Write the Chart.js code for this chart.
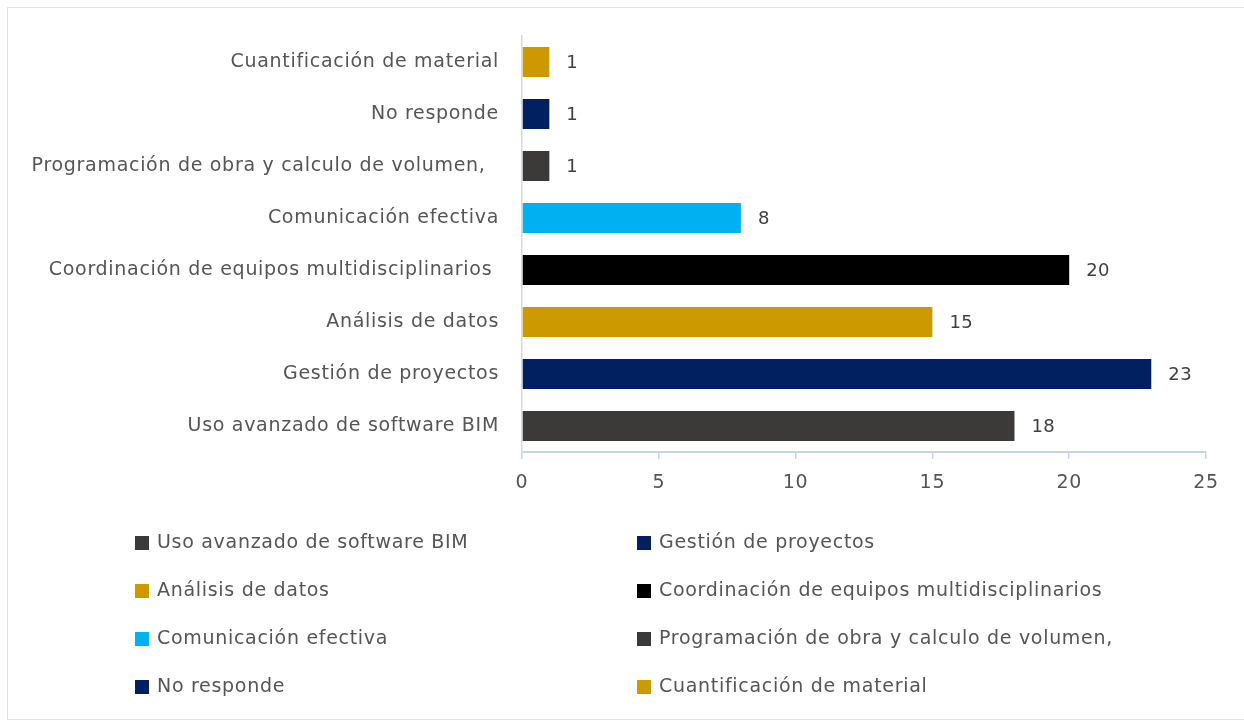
<!DOCTYPE html>
<html>
<head>
<meta charset="utf-8">
<script src="https://cdn.jsdelivr.net/npm/chart.js@4.4.0/dist/chart.umd.min.js"></script>
<style>
  html, body { margin: 0; padding: 0; background: #ffffff; }
  body { width: 1244px; height: 724px; position: relative; overflow: hidden; font-family: "DejaVu Sans", sans-serif; }
  #frame { position: absolute; left: 7px; top: 7px; width: 1260px; height: 713px; border: 1px solid #dde4ef; box-sizing: border-box; }
  #wrap { position: absolute; left: 0; top: 0; width: 1244px; height: 510px; }
  #legend { position: absolute; left: 0; top: 0; width: 1244px; height: 724px; pointer-events: none; }
  .li { position: absolute; height: 22px; line-height: 22px; font-size: 19px; color: #555555; letter-spacing: 0.7px; white-space: nowrap; }
  .sw { position: absolute; width: 14px; height: 14px; }
</style>
</head>
<body>
<div id="frame"></div>
<div id="wrap"><canvas id="c"></canvas></div>
<div id="legend"></div>
<script>
// Data (top-to-bottom order as displayed)
const categories = [
  "Cuantificación de material",
  "No responde",
  "Programación de obra y calculo de volumen,  ",
  "Comunicación efectiva",
  "Coordinación de equipos multidisciplinarios ",
  "Análisis de datos",
  "Gestión de proyectos",
  "Uso avanzado de software BIM"
];
const values = [1, 1, 1, 8, 20, 15, 23, 18];
const barColors = ["#CC9900", "#002060", "#3B3A38", "#00B0F0", "#000000", "#CC9900", "#002060", "#3B3A38"];
const xTicks = [0, 5, 10, 15, 20, 25];

Chart.defaults.font.family = "'DejaVu Sans', sans-serif";
Chart.defaults.font.size = 19;
Chart.defaults.color = "#555555";

const spacingPlugin = {
  id: 'spacing',
  beforeDraw(chart) { chart.ctx.letterSpacing = '0.7px'; }
};

const valueLabels = {
  id: 'valueLabels',
  afterDatasetsDraw(chart) {
    const ctx = chart.ctx;
    const meta = chart.getDatasetMeta(0);
    ctx.save();
    ctx.letterSpacing = '0.4px';
    ctx.font = "18px 'DejaVu Sans', sans-serif";
    ctx.fillStyle = "#404040";
    ctx.textAlign = 'left';
    ctx.textBaseline = 'middle';
    meta.data.forEach((el, i) => {
      ctx.fillText(String(chart.data.datasets[0].data[i]), el.x + 17, el.y + 1);
    });
    ctx.restore();
  }
};

new Chart(document.getElementById('c'), {
  type: 'bar',
  data: {
    labels: categories,
    datasets: [{
      data: values,
      backgroundColor: barColors,
      borderWidth: 0,
      barPercentage: 0.577,
      categoryPercentage: 1.0
    }]
  },
  options: {
    indexAxis: 'y',
    responsive: true,
    maintainAspectRatio: false,
    animation: false,
    layout: { padding: { top: 36, right: 38, left: 0, bottom: 0 } },
    plugins: { legend: { display: false }, tooltip: { enabled: false } },
    scales: {
      x: {
        min: 0, max: 25,
        afterBuildTicks(scale) { scale.ticks = xTicks.map(v => ({ value: v })); },
        afterFit(scale) { scale.height = 58; },
        grid: { display: true, drawOnChartArea: false, drawTicks: true, tickLength: 7, color: '#c5d4ec', lineWidth: 1.5 },
        border: { display: true, color: '#c5d4ec', width: 2 },
        ticks: { padding: 13, color: '#555555', maxRotation: 0, autoSkip: false }
      },
      y: {
        afterFit(scale) { scale.width = 522; },
        grid: { display: false },
        border: { display: true, color: '#d9d9d9', width: 1.5 },
        ticks: { padding: 15, color: '#555555', autoSkip: false }
      }
    }
  },
  plugins: [spacingPlugin, valueLabels]
});

// Legend (reverse order, two columns)
const legend = document.getElementById('legend');
const order = categories.map((c, i) => i).reverse();
order.forEach((idx, k) => {
  const col = k % 2, row = Math.floor(k / 2);
  const bx = col === 0 ? 135 : 637;
  const cy = 541 + row * 48;
  const sw = document.createElement('div');
  sw.className = 'sw';
  sw.style.left = bx + 'px';
  sw.style.top = (cy - 5) + 'px';
  sw.style.background = barColors[idx];
  legend.appendChild(sw);
  const t = document.createElement('div');
  t.className = 'li';
  t.style.left = (bx + 22) + 'px';
  t.style.top = (cy - 11) + 'px';
  t.textContent = categories[idx].trim();
  legend.appendChild(t);
});
</script>
</body>
</html>
